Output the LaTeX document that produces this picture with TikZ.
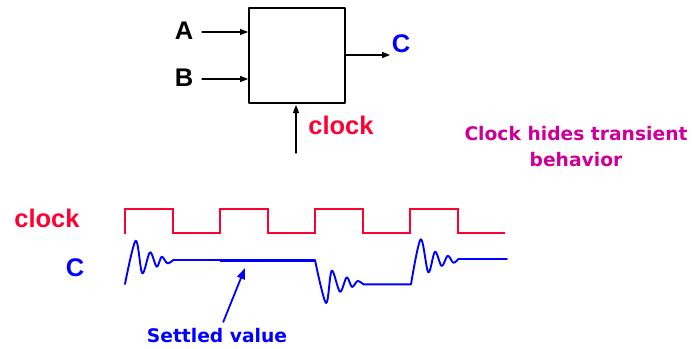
\documentclass[tikz,border=0pt]{standalone}
\usepackage{fontspec}
\setmainfont{DejaVu Sans}
\newfontfamily\arialbd{Liberation Sans}
\usetikzlibrary{arrows.meta,positioning}
\definecolor{clkred}{RGB}{255,0,51}
\definecolor{sigblue}{RGB}{0,0,255}
\definecolor{notemag}{RGB}{204,0,153}
\tikzset{
  lbl/.style={font=\arialbd\fontsize{25.5}{28}\selectfont\bfseries, inner sep=1pt},
  note/.style={font=\fontsize{18.7}{26}\selectfont\bfseries, align=center, inner sep=1pt},
  pin/.style={-{Triangle[length=8pt,width=6pt]}, line width=1.1pt},
}
\begin{document}
\begin{tikzpicture}[x=1pt, y=-1pt, line join=round, line cap=round, >=stealth]
	\useasboundingbox (0,0) rectangle (692,348);
	% block
	\node[draw, line width=1.8pt, minimum width=96pt, minimum height=95pt] (blk) at (297,55.5) {};
	\node[lbl] (a) at (184,31) {A};
	\node[lbl] (b) at (184,78) {B};
	\node[lbl, sigblue] (c) at (401,44) {C};
	\node[lbl, clkred] (clk) at (341,125) {clock};
	\coordinate (cout) at (390,55);
	\coordinate (clkin) at (296,153);
	\draw[pin] (202,32) -- (202,32 -| blk.west);
	\draw[pin] (202,79) -- (202,79 -| blk.west);
	\draw[pin] (cout -| blk.east) -- (cout);
	\draw[pin] (clkin) -- ++(0,-48);
	% note
	\node[note, notemag] (hide) at (576,147) {Clock hides transient\\behavior};
	% waveforms
	\node[lbl, clkred] (clkw) at (47,218) {clock};
	\node[lbl, sigblue] (cw) at (75,268) {C};
	\draw[clkred, line width=2.6pt, line join=miter, line cap=butt]
		(125,234) -- (125,209)
		\foreach \i in {0,1,2,3} {
			-- (173+95*\i,209) -- (173+95*\i,233) -- (220+95*\i,233)
			\ifnum\i<3 -- (220+95*\i,209) \fi
		} -- (504,233);
	\draw[sigblue, line width=1.9pt]
		plot[smooth, tension=0.55] coordinates {(125,284) (135.7,240.7) (142.3,273.3) (150,252.3) (156.7,266.7) (161.7,256.7) (167.3,263.3) (173.3,260)}
		-- (315,260)
		plot[smooth, tension=0.55] coordinates {(315,260) (326,303) (331.7,270.7) (340,291.7) (346.7,277.3) (352,287) (357.5,281) (363.3,284.3)}
		-- (411,284.3)
		plot[smooth, tension=0.55] coordinates {(411,284.3) (420.7,239.3) (428.3,272.3) (435,251.7) (441.7,266) (447.7,255.7) (453.3,262.7) (458.3,259)}
		-- (507,259);
	\draw[sigblue, line width=3pt, line cap=butt] (220,260) -- (315,260);
	\coordinate (sv) at (245,268);
	\node[note, sigblue] (settled) at (217,336) {Settled value};
	\draw[sigblue, line width=1.8pt, -{Triangle[length=11pt,width=8pt]}, shorten <=6pt] (settled.north) ++(4,0) -- (sv);
\end{tikzpicture}
\end{document}
